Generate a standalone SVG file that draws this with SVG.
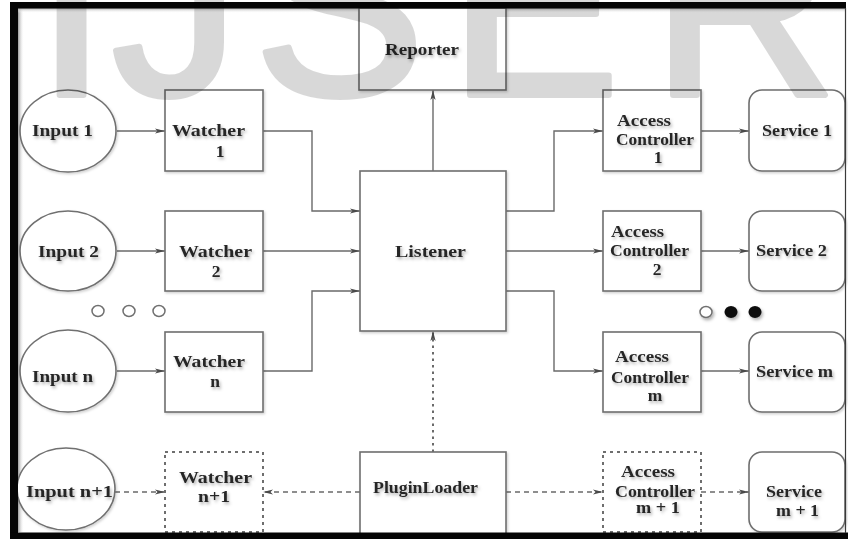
<svg xmlns="http://www.w3.org/2000/svg" width="848" height="539" viewBox="0 0 848 539">
  <defs>
    <style>
      .box { fill: #ffffff; stroke: #6e6e6e; stroke-width: 1.6; }
      .dotbox { fill: #ffffff; stroke: #6e6e6e; stroke-width: 2; stroke-dasharray: 3 4; }
      .oval { fill: #ffffff; stroke: #707070; stroke-width: 1.6; }
      .link { fill: none; stroke: #6a6a6a; stroke-width: 1.4; marker-end: url(#head); }
      .dash { fill: none; stroke: #6a6a6a; stroke-width: 1.5; stroke-dasharray: 5 4; marker-end: url(#head); }
      .dots { fill: none; stroke: #6a6a6a; stroke-width: 2; stroke-dasharray: 2.5 4; marker-end: url(#head); }
      .lbl { font-family: "Liberation Serif", "Times New Roman", serif; font-size: 17.5px; font-weight: bold; fill: #262626; }
      .mid { text-anchor: middle; }
      .mark { font-family: "Liberation Sans", Arial, sans-serif; font-size: 256px; fill: #000000; stroke: #000000; stroke-width: 6; stroke-linejoin: round; opacity: 0.15; }
    </style>
    <marker id="head" viewBox="0 0 10 6" refX="10" refY="3" markerWidth="10" markerHeight="6" markerUnits="userSpaceOnUse" orient="auto">
      <path d="M0,0.4 L10,3 L0,5.6 L2.5,3 z" fill="#4a4a4a"/>
    </marker>
    <filter id="tshadow" x="-20%" y="-40%" width="140%" height="190%">
      <feDropShadow dx="1.5" dy="2.2" stdDeviation="1.4" flood-color="#000000" flood-opacity="0.3"/>
    </filter>
    <filter id="bshadow" x="-10%" y="-10%" width="125%" height="125%">
      <feDropShadow dx="1.2" dy="1.5" stdDeviation="1.2" flood-color="#000000" flood-opacity="0.18"/>
    </filter>
    <linearGradient id="shadeL" x1="0" y1="0" x2="1" y2="0">
      <stop offset="0" stop-color="#9a9a9a"/>
      <stop offset="1" stop-color="#ffffff" stop-opacity="0"/>
    </linearGradient>
    <linearGradient id="shadeT" x1="0" y1="0" x2="0" y2="1">
      <stop offset="0" stop-color="#a8a8a8"/>
      <stop offset="1" stop-color="#ffffff" stop-opacity="0"/>
    </linearGradient>
  </defs>

  <rect x="0" y="0" width="848" height="539" fill="#ffffff"/>
  <!-- soft inner edge of the frame -->
  <rect x="18" y="8" width="6" height="524" fill="url(#shadeL)"/>
  <rect x="18" y="8" width="827" height="5" fill="url(#shadeT)"/>

  <!-- connectors -->
  <g id="connectors">
    <path class="link" d="M117,131 H165"/>
    <path class="link" d="M117,251 H165"/>
    <path class="link" d="M117,371 H165"/>
    <path class="link" d="M263,131 H312 V211 H360"/>
    <path class="link" d="M263,251 H360"/>
    <path class="link" d="M263,371 H312 V291 H360"/>
    <path class="link" d="M433,171 V90"/>
    <path class="link" d="M506,211 H554 V131 H603"/>
    <path class="link" d="M506,251 H603"/>
    <path class="link" d="M506,291 H554 V371 H603"/>
    <path class="link" d="M701,131 H749"/>
    <path class="link" d="M701,251 H749"/>
    <path class="link" d="M701,371 H749"/>
    <path class="dash" d="M115,492 H165"/>
    <path class="dash" d="M360,492 H263"/>
    <path class="dots" d="M433,452 V331"/>
    <path class="dash" d="M506,492 H603"/>
    <path class="dash" d="M701,492 H749"/>
  </g>

  <!-- inputs -->
  <g id="input1" filter="url(#bshadow)">
    <ellipse class="oval" cx="68" cy="131" rx="48" ry="41"/>
  </g>
  <g id="input2" filter="url(#bshadow)">
    <ellipse class="oval" cx="68" cy="251" rx="48" ry="40"/>
  </g>
  <g id="inputN" filter="url(#bshadow)">
    <ellipse class="oval" cx="68" cy="371" rx="48" ry="41"/>
  </g>
  <g id="inputN1" filter="url(#bshadow)">
    <ellipse class="oval" cx="66" cy="489" rx="49" ry="41"/>
  </g>

  <!-- watchers -->
  <g id="watcher1" filter="url(#bshadow)"><rect class="box" x="165" y="90" width="98" height="81"/></g>
  <g id="watcher2" filter="url(#bshadow)"><rect class="box" x="165" y="211" width="98" height="80"/></g>
  <g id="watcherN" filter="url(#bshadow)"><rect class="box" x="165" y="332" width="98" height="80"/></g>
  <g id="watcherN1"><rect class="dotbox" x="165" y="452" width="98" height="80"/></g>

  <!-- core -->
  <g id="reporter" filter="url(#bshadow)"><rect class="box" x="359" y="8" width="147" height="82"/></g>
  <g id="listener" filter="url(#bshadow)"><rect class="box" x="360" y="171" width="146" height="160"/></g>
  <g id="pluginLoader" filter="url(#bshadow)"><rect class="box" x="360" y="452" width="146" height="84"/></g>

  <!-- access controllers -->
  <g id="ac1" filter="url(#bshadow)"><rect class="box" x="603" y="90" width="98" height="81"/></g>
  <g id="ac2" filter="url(#bshadow)"><rect class="box" x="603" y="211" width="98" height="80"/></g>
  <g id="acM" filter="url(#bshadow)"><rect class="box" x="603" y="332" width="98" height="80"/></g>
  <g id="acM1"><rect class="dotbox" x="603" y="452" width="98" height="80"/></g>

  <!-- services -->
  <g id="service1" filter="url(#bshadow)"><rect class="box" x="749" y="90" width="96" height="81" rx="13"/></g>
  <g id="service2" filter="url(#bshadow)"><rect class="box" x="749" y="211" width="96" height="80" rx="13"/></g>
  <g id="serviceM" filter="url(#bshadow)"><rect class="box" x="749" y="332" width="96" height="80" rx="13"/></g>
  <g id="serviceM1" filter="url(#bshadow)"><rect class="box" x="749" y="452" width="96" height="80" rx="13"/></g>

  <!-- ellipsis markers -->
  <g id="moreInputs" fill="#ffffff" stroke="#707070" stroke-width="1.5">
    <ellipse cx="98" cy="311" rx="6" ry="5.5"/>
    <ellipse cx="129" cy="311" rx="6" ry="5.5"/>
    <ellipse cx="159" cy="311" rx="6" ry="5.5"/>
  </g>
  <g id="moreServices" filter="url(#tshadow)">
    <ellipse cx="706" cy="312" rx="6" ry="5.5" fill="#ffffff" stroke="#707070" stroke-width="1.5"/>
    <ellipse cx="731" cy="312" rx="6.5" ry="6" fill="#111111"/>
    <ellipse cx="755" cy="312" rx="6.5" ry="6" fill="#111111"/>
  </g>

  <!-- labels -->
  <g id="labels" class="lbl" filter="url(#tshadow)">
    <text x="32" y="136" textLength="61" lengthAdjust="spacingAndGlyphs">Input 1</text>
    <text x="38" y="257" textLength="61" lengthAdjust="spacingAndGlyphs">Input 2</text>
    <text x="32" y="382" textLength="61" lengthAdjust="spacingAndGlyphs">Input n</text>
    <text x="26" y="497" textLength="87" lengthAdjust="spacingAndGlyphs">Input n+1</text>

    <text x="172" y="136" textLength="73" lengthAdjust="spacingAndGlyphs">Watcher</text>
    <text class="mid" x="220" y="157">1</text>
    <text x="179" y="257" textLength="73" lengthAdjust="spacingAndGlyphs">Watcher</text>
    <text class="mid" x="216" y="277">2</text>
    <text x="173" y="367" textLength="72" lengthAdjust="spacingAndGlyphs">Watcher</text>
    <text class="mid" x="215" y="387">n</text>
    <text x="179" y="483" textLength="73" lengthAdjust="spacingAndGlyphs">Watcher</text>
    <text x="198" y="502" textLength="32" lengthAdjust="spacingAndGlyphs">n+1</text>

    <text x="385" y="55" textLength="74" lengthAdjust="spacingAndGlyphs">Reporter</text>
    <text x="395" y="257" textLength="71" lengthAdjust="spacingAndGlyphs">Listener</text>
    <text x="373" y="493" textLength="105" lengthAdjust="spacingAndGlyphs">PluginLoader</text>

    <text x="617" y="126" textLength="54" lengthAdjust="spacingAndGlyphs">Access</text>
    <text x="616" y="145" textLength="78" lengthAdjust="spacingAndGlyphs">Controller</text>
    <text class="mid" x="658" y="163">1</text>
    <text x="611" y="237" textLength="53" lengthAdjust="spacingAndGlyphs">Access</text>
    <text x="610" y="256" textLength="79" lengthAdjust="spacingAndGlyphs">Controller</text>
    <text class="mid" x="657" y="275">2</text>
    <text x="615" y="362" textLength="54" lengthAdjust="spacingAndGlyphs">Access</text>
    <text x="611" y="383" textLength="78" lengthAdjust="spacingAndGlyphs">Controller</text>
    <text class="mid" x="655" y="401">m</text>
    <text x="621" y="477" textLength="54" lengthAdjust="spacingAndGlyphs">Access</text>
    <text x="615" y="497" textLength="80" lengthAdjust="spacingAndGlyphs">Controller</text>
    <text x="636" y="513" textLength="44" lengthAdjust="spacingAndGlyphs">m + 1</text>

    <text x="762" y="136" textLength="70" lengthAdjust="spacingAndGlyphs">Service 1</text>
    <text x="756" y="256" textLength="71" lengthAdjust="spacingAndGlyphs">Service 2</text>
    <text x="756" y="377" textLength="77" lengthAdjust="spacingAndGlyphs">Service m</text>
    <text x="766" y="497" textLength="56" lengthAdjust="spacingAndGlyphs">Service</text>
    <text x="776" y="516" textLength="43" lengthAdjust="spacingAndGlyphs">m + 1</text>
  </g>

  <!-- frame -->
  <g id="frame">
    <rect x="10" y="2" width="836" height="6.5" fill="#050505"/>
    <rect x="10" y="2" width="8" height="537" fill="#050505"/>
    <rect x="10" y="532.5" width="838" height="6.5" fill="#050505"/>
    <line x1="845.5" y1="8" x2="845.5" y2="533" stroke="#3a3a3a" stroke-width="1.2"/>
  </g>

  <!-- publisher watermark -->
  <g id="watermark" class="mark">
    <text x="36" y="95">I</text>
    <text x="112" y="95">J</text>
    <text x="254" y="95">S</text>
    <text x="449" y="95">E</text>
    <text x="652" y="95">R</text>
  </g>
</svg>
